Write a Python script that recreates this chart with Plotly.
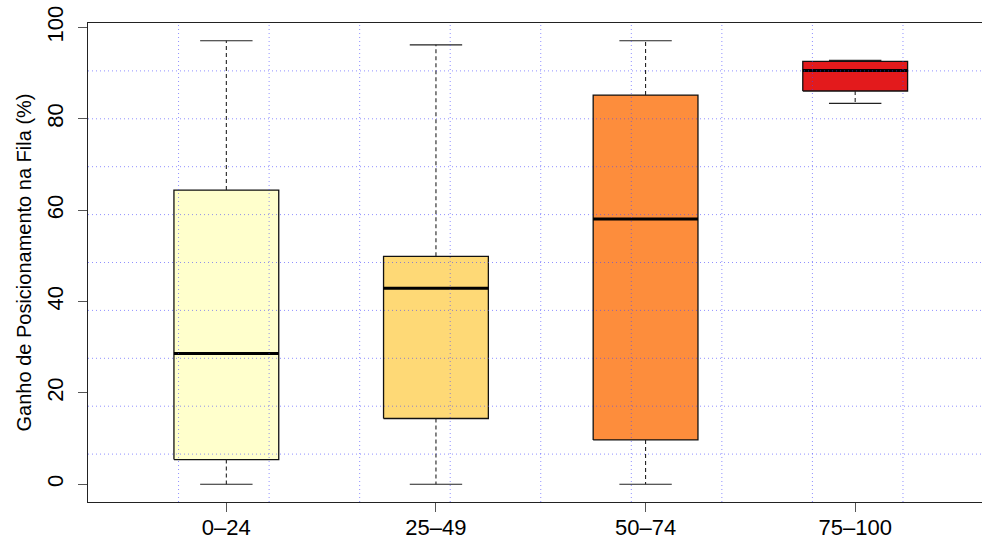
import plotly.graph_objects as go

# ---- data ----
categories = ["0–24", "25–49", "50–74", "75–100"]
lower_whisker = [0.0, 0.0, 0.0, 83.4]
q1 = [5.4, 14.4, 9.7, 86.1]
median = [28.6, 42.9, 58.1, 90.6]
q3 = [64.4, 49.9, 85.2, 92.6]
upper_whisker = [97.1, 96.2, 97.1, 92.8]
box_colors = ["#FFFFCC", "#FED976", "#FD8D3C", "#E31A1C"]
y_ticks = [0, 20, 40, 60, 80, 100]
y_title = "Ganho de Posicionamento na Fila (%)"

FONT = "Liberation Sans, Arial, Helvetica, sans-serif"
BOX_HALF = 0.25
CAP_HALF = 0.125

fig = go.Figure()
positions = list(range(1, len(categories) + 1))

# boxes
for x, a, b, col in zip(positions, q1, q3, box_colors):
    fig.add_trace(go.Scatter(
        x=[x - BOX_HALF, x + BOX_HALF, x + BOX_HALF, x - BOX_HALF, x - BOX_HALF],
        y=[a, a, b, b, a], mode="lines", fill="toself", fillcolor=col,
        line=dict(color="#111111", width=1.3), hoverinfo="skip", showlegend=False))

# whiskers (dashed)
wx, wy = [], []
for x, lo, a, b, hi in zip(positions, lower_whisker, q1, q3, upper_whisker):
    wx += [x, x, None, x, x, None]
    wy += [b, hi, None, a, lo, None]
fig.add_trace(go.Scatter(x=wx, y=wy, mode="lines",
                         line=dict(color="#222222", width=1.1, dash="4px,3px"),
                         hoverinfo="skip", showlegend=False))

# caps
cx, cy = [], []
for x, lo, hi in zip(positions, lower_whisker, upper_whisker):
    cx += [x - CAP_HALF, x + CAP_HALF, None, x - CAP_HALF, x + CAP_HALF, None]
    cy += [hi, hi, None, lo, lo, None]
fig.add_trace(go.Scatter(x=cx, y=cy, mode="lines",
                         line=dict(color="#222222", width=1.2),
                         hoverinfo="skip", showlegend=False))

# medians
mx, my = [], []
for x, m in zip(positions, median):
    mx += [x - BOX_HALF, x + BOX_HALF, None]
    my += [m, m, None]
fig.add_trace(go.Scatter(x=mx, y=my, mode="lines",
                         line=dict(color="#000000", width=3),
                         hoverinfo="skip", showlegend=False))

# axis ranges as in R (4% extension); right side of the R plot is cropped
n = len(categories)
x_full = (0.5 - 0.04 * n, n + 0.5 + 0.04 * n)          # 0.34 .. 4.66
ymin, ymax = min(lower_whisker), max(upper_whisker)
yr = (ymin - 0.04 * (ymax - ymin), ymax + 0.04 * (ymax - ymin))
x_visible_end = 4.605

# grid(10, 10) dotted blue, drawn on top
grid_col = "rgba(70,70,255,0.6)"
for k in range(1, 10):
    gx = x_full[0] + k * (x_full[1] - x_full[0]) / 10
    gy = yr[0] + k * (yr[1] - yr[0]) / 10
    fig.add_shape(type="line", xref="x", yref="paper", x0=gx, x1=gx, y0=0, y1=1,
                  line=dict(color=grid_col, width=1, dash="1px,3px"), layer="above")
    fig.add_shape(type="line", xref="paper", yref="y", x0=0, x1=1, y0=gy, y1=gy,
                  line=dict(color=grid_col, width=1, dash="1px,3px"), layer="above")

fig.update_layout(
    width=982, height=540,
    margin=dict(l=88, r=0, t=23, b=38),
    paper_bgcolor="white", plot_bgcolor="white",
    font=dict(family=FONT, size=22, color="black"),
    showlegend=False,
)
fig.update_xaxes(
    range=[x_full[0], x_visible_end], tickvals=positions, ticktext=categories,
    automargin=False,
    showgrid=False, zeroline=False, showline=True, mirror=True,
    linecolor="#222222", linewidth=1.3,
    ticks="outside", ticklen=9, tickcolor="#555555", tickwidth=1.3,
    ticklabelstandoff=-4,
    tickfont=dict(size=22, family=FONT, color="black"),
)
fig.update_yaxes(
    range=list(yr), tickvals=y_ticks, ticktext=[str(v) for v in y_ticks],
    tickangle=-90, automargin=False,
    showgrid=False, zeroline=False, showline=True, mirror=False,
    linecolor="#222222", linewidth=1.3,
    ticks="outside", ticklen=9, tickcolor="#555555", tickwidth=1.3,
    ticklabelstandoff=6,
    tickfont=dict(size=22, family=FONT, color="black"),
    title=dict(text=y_title, font=dict(size=20, family=FONT, color="black"), standoff=6),
)

fig.write_html("out.html",
               config={"displayModeBar": False},
               post_script="document.body.style.margin='0';document.body.style.overflow='hidden';")
